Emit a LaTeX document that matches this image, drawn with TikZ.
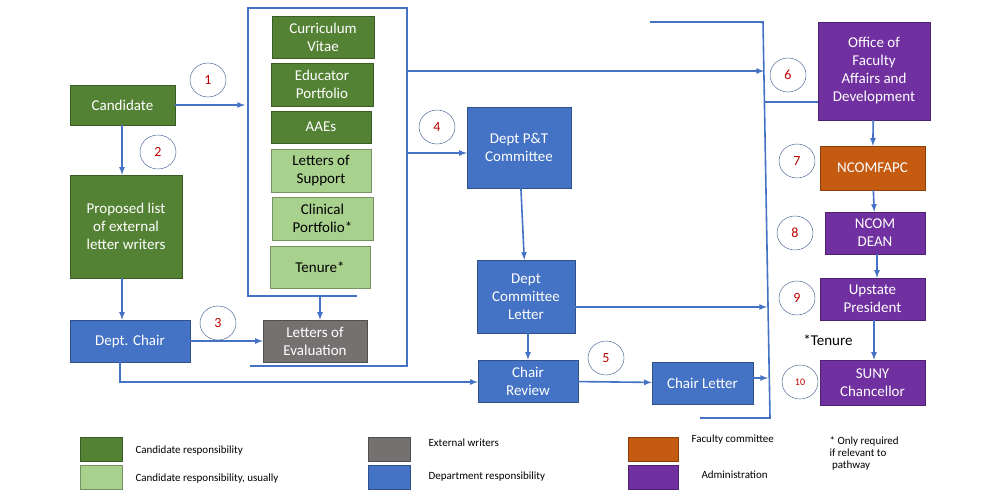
\documentclass[tikz,border=0pt]{standalone}
\usepackage{fontspec}
\setmainfont{Carlito}
\definecolor{dgreen}{HTML}{548235}
\definecolor{lgreen}{HTML}{A9D18E}
\definecolor{egrey}{HTML}{767171}
\definecolor{dblue}{HTML}{4472C4}
\definecolor{forange}{HTML}{C55A11}
\definecolor{apurple}{HTML}{7030A0}
\tikzset{
  box/.style={draw=#1!70!black,fill=#1,text=white,align=center,inner sep=1pt,
    font=\fontsize{15}{18}\selectfont},
  doc/.style={box=lgreen,text=black},
  stepmark/.style={draw=dblue!70!black,ellipse,minimum width=36pt,minimum height=34pt,
    inner sep=0pt,text=red!75!black,font=\fontsize{14}{16}\selectfont},
  flow/.style={dblue,line width=1.6pt},
  key/.style={minimum width=42pt,minimum height=24pt,draw=#1!70!black,fill=#1},
  keytext/.style={anchor=west,font=\fontsize{11}{13}\selectfont,align=left}
}
\usetikzlibrary{shapes.geometric}
\begin{document}
\begin{tikzpicture}[x=1pt,y=-1pt,>=latex]
  \useasboundingbox (0,0) rectangle (1000,500);
  % candidate side
  \node[box=dgreen,minimum width=105pt,minimum height=40pt] (cand) at (122.5,105) {Candidate};
  \node[box=dgreen,minimum width=112pt,minimum height=103pt] (list) at (126,226.5) {Proposed list\\of external\\letter writers};
  \node[box=dblue,minimum width=120pt,minimum height=42pt] (chair) at (130,341) {Dept. Chair};
  \node[box=egrey,minimum width=104pt,minimum height=42pt] (eval) at (315,341) {Letters of\\Evaluation};
  % packet
  \node[box=dgreen,minimum width=102pt,minimum height=42pt] (cv) at (323,37) {Curriculum\\Vitae};
  \node[box=dgreen,minimum width=102pt,minimum height=43pt] (edu) at (322,84.5) {Educator\\Portfolio};
  \node[box=dgreen,minimum width=100pt,minimum height=32pt] (aae) at (321,127) {AAEs};
  \node[doc,minimum width=100pt,minimum height=43pt] (sup) at (321,170.5) {Letters of\\Support};
  \node[doc,minimum width=101pt,minimum height=43pt] (clin) at (322.5,218.5) {Clinical\\Portfolio*};
  \node[doc,minimum width=100pt,minimum height=42pt] (ten) at (320,267) {Tenure*};
  \coordinate (pk1) at (248,8);
  \coordinate (pk2) at (407,8);
  \coordinate (pk3) at (407,366);
  \coordinate (pk4) at (250,366);
  \coordinate (pk5) at (248,296);
  \coordinate (pk6) at (357,296);
  \draw[flow] (pk6) -- (pk5) -- (pk1) -- (pk2) -- (pk3) -- (pk4);
  % department
  \node[box=dblue,minimum width=104pt,minimum height=81pt] (pt) at (519,147.5) {Dept P\&T\\Committee};
  \node[box=dblue,minimum width=98pt,minimum height=73pt] (dcl) at (526,296.5) {Dept\\Committee\\Letter};
  \node[box=dblue,minimum width=100pt,minimum height=42pt] (rev) at (528,381) {Chair\\Review};
  \node[box=dblue,minimum width=101pt,minimum height=42pt] (cl) at (702.5,383) {Chair Letter};
  % collector
  \coordinate (cb1) at (650,22);
  \coordinate (cb2) at (763,22);
  \coordinate (cb3) at (770,418);
  \coordinate (cb4) at (700,418);
  \draw[flow] (cb1) -- (cb2) -- (cb3) -- (cb4);
  % administration
  \node[box=apurple,minimum width=112pt,minimum height=98pt] (ofad) at (874,71) {Office of\\Faculty\\Affairs and\\Development};
  \node[box=forange,minimum width=105pt,minimum height=44pt] (fapc) at (872.5,168) {NCOMFAPC};
  \node[box=apurple,minimum width=100pt,minimum height=42pt] (dean) at (875,233) {NCOM\\DEAN};
  \node[box=apurple,minimum width=105pt,minimum height=42pt] (pres) at (872.5,299) {Upstate\\President};
  \node[box=apurple,minimum width=105pt,minimum height=45pt] (suny) at (872.5,382.5) {SUNY\\Chancellor};
  \node[font=\fontsize{15}{18}\selectfont] (tnote) at (828,340) {*Tenure};
  % connectors
  \draw[flow,->] (cand.east) -- (245,105);
  \draw[flow,->] (cand.south-|122,0) -- (list.north-|122,0);
  \draw[flow,->] (list.south-|122,0) -- (chair.north-|122,0);
  \draw[flow,->] (chair) -- (eval);
  \draw[flow,->] (320,296) -- (eval.north-|320,0);
  \draw[flow,->] (chair.south-|120,0) -- (120,382) -- (rev.west|-0,382);
  \draw[flow,->] (407,153) -- (pt.west|-0,153);
  \draw[flow,->] (407,71) -- (764,71);
  \draw[flow,->] (pt) -- (dcl);
  \draw[flow,->] (dcl.south-|rev) -- (rev);
  \draw[flow,->] (dcl.east|-0,307) -- (767,307);
  \draw[flow,->] (rev) -- (cl);
  \draw[flow,->] (cl.east|-0,378) -- (768,378);
  \draw[flow] (764,102) -- (ofad.west|-0,102);
  \draw[flow,->] (ofad) -- (fapc);
  \draw[flow,->] (fapc) -- (dean);
  \draw[flow,->] (dean.south-|877,0) -- (pres.north-|877,0);
  \draw[flow,->] (pres.south-|874,0) -- (suny.north-|874,0);
  % steps
  \node[stepmark] (s1) at (208,80) {1};
  \node[stepmark] (s2) at (158,152) {2};
  \node[stepmark] (s3) at (218,323) {3};
  \node[stepmark] (s4) at (437,127) {4};
  \node[stepmark] (s5) at (606,358) {5};
  \node[stepmark] (s6) at (788,75) {6};
  \node[stepmark] (s7) at (797,161) {7};
  \node[stepmark] (s8) at (795,233) {8};
  \node[stepmark] (s9) at (797,298) {9};
  \node[stepmark,font=\fontsize{10}{12}\selectfont] (s10) at (800,382) {10};
  % legend
  \node[key=dgreen] (k1) at (101,449) {};
  \node[keytext] at (132,451) {Candidate responsibility};
  \node[key=lgreen] (k2) at (101,477) {};
  \node[keytext] at (132,479) {Candidate responsibility, usually};
  \node[key=egrey] (k3) at (389,449) {};
  \node[keytext] at (425,443) {External writers};
  \node[key=dblue] (k4) at (389,477) {};
  \node[keytext] at (425,477) {Department responsibility};
  \node[key=forange,minimum width=50pt] (k5) at (653,449) {};
  \node[keytext] at (688,440) {Faculty committee};
  \node[key=apurple,minimum width=50pt] (k6) at (653,477) {};
  \node[keytext] at (698,475) {Administration};
  \node[keytext,anchor=north west,font=\fontsize{11}{12}\selectfont] at (826,433) {* Only required\\if relevant to\\\ pathway};
\end{tikzpicture}
\end{document}
